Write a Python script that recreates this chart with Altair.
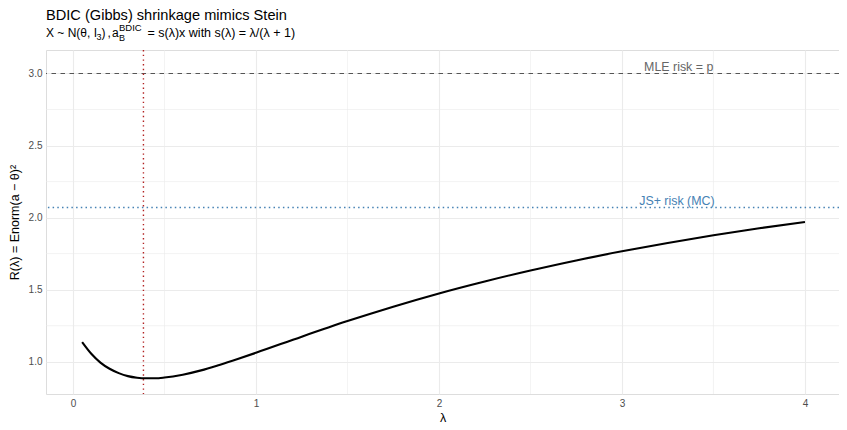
import altair as alt
import pandas as pd

# ---- data ----
lam = [0.05, 0.10, 0.15, 0.20, 0.25, 0.30, 0.35, 0.40, 0.45, 0.50, 0.60, 0.70,
       0.80, 0.90, 1.00, 1.25, 1.50, 1.75, 2.00, 2.25, 2.50, 2.75, 3.00, 3.25,
       3.50, 3.75, 4.00]
risk = [1.136, 1.055, 0.994, 0.951, 0.921, 0.900, 0.889, 0.885, 0.885, 0.890,
        0.910, 0.940, 0.978, 1.019, 1.062, 1.174, 1.282, 1.382, 1.474, 1.557,
        1.633, 1.703, 1.766, 1.824, 1.878, 1.926, 1.969]
mle_risk = [3.0]
js_risk = [2.07]
lam_star = [0.385]
ann_labels = ["MLE risk = p", "JS+ risk (MC)"]
ann_x = [3.31, 3.30]
ann_y = [mle_risk[0], js_risk[0]]
x_major = [0, 1, 2, 3, 4]
x_minor = [0.5, 1.5, 2.5, 3.5]
y_major = [1.0, 1.5, 2.0, 2.5, 3.0]
y_minor = [1.25, 1.75, 2.25, 2.75]

FONT = "Liberation Sans"
W, H = 793, 344
XDOM = [-0.1475, 4.186]
YDOM = [0.776, 3.163]

curve_df = pd.DataFrame({"lam": lam, "risk": risk})
xs = alt.Scale(domain=XDOM, nice=False, zero=False)
ys = alt.Scale(domain=YDOM, nice=False, zero=False)

xaxis = alt.Axis(values=x_major, format="d", grid=True, gridColor="#EBEBEB",
                 gridWidth=1.1, ticks=False, domain=False, labelFont=FONT,
                 labelFontSize=10, labelColor="#4D4D4D", labelPadding=4,
                 title="λ", titleFont=FONT, titleFontSize=12.5,
                 titleFontWeight="normal", titleColor="black", titlePadding=3)
yaxis = alt.Axis(values=y_major, format=".1f", grid=True, gridColor="#EBEBEB",
                 gridWidth=1.1, ticks=False, domain=False, labelFont=FONT,
                 labelFontSize=10, labelColor="#4D4D4D", labelPadding=4,
                 title="R(λ) = Enorm(a − θ)²", titleFont=FONT, titleFontSize=12.5,
                 titleFontWeight="normal", titleColor="black",
                 titleX=-32, titleY=H / 2, titleAngle=270,
                 titleAlign="center", titleBaseline="middle")

base_axes = alt.Chart(curve_df).mark_line(opacity=0).encode(
    x=alt.X("lam:Q", scale=xs, axis=xaxis),
    y=alt.Y("risk:Q", scale=ys, axis=yaxis),
)

xminor = alt.Chart(pd.DataFrame({"v": x_minor})).mark_rule(
    color="#EBEBEB", strokeWidth=0.6).encode(x=alt.X("v:Q", scale=xs))
yminor = alt.Chart(pd.DataFrame({"v": y_minor})).mark_rule(
    color="#EBEBEB", strokeWidth=0.6).encode(y=alt.Y("v:Q", scale=ys))

mle_rule = alt.Chart(pd.DataFrame({"v": mle_risk})).mark_rule(
    color="#555555", strokeWidth=1.1, strokeDash=[4.5, 4.5]).encode(
    y=alt.Y("v:Q", scale=ys))
js_rule = alt.Chart(pd.DataFrame({"v": js_risk})).mark_rule(
    color="#4682B4", strokeWidth=1.5, strokeDash=[1.5, 3.2]).encode(
    y=alt.Y("v:Q", scale=ys))
star_rule = alt.Chart(pd.DataFrame({"v": lam_star})).mark_rule(
    color="#B22222", strokeWidth=1.4, strokeDash=[1.4, 3.3]).encode(
    x=alt.X("v:Q", scale=xs))

curve = alt.Chart(curve_df).mark_line(
    color="black", strokeWidth=2.1, interpolate="monotone").encode(
    x=alt.X("lam:Q", scale=xs), y=alt.Y("risk:Q", scale=ys))

ann_df = pd.DataFrame({"label": ann_labels, "x": ann_x, "y": ann_y,
                       "c": ["#666666", "#4682B4"]})
ann = alt.Chart(ann_df).mark_text(
    font=FONT, fontSize=12.4, align="center", baseline="alphabetic", dy=-2.5
).encode(x=alt.X("x:Q", scale=xs), y=alt.Y("y:Q", scale=ys), text="label:N",
         color=alt.Color("c:N", scale=None))

one = pd.DataFrame({"k": [0]})


def txt(s, x, y, size, color="black"):
    return alt.Chart(one).mark_text(
        text=s, font=FONT, fontSize=size, align="left", baseline="alphabetic",
        color=color).encode(x=alt.value(x), y=alt.value(y))


title = txt("BDIC (Gibbs) shrinkage mimics Stein", 0, -30, 14.6)
sub = [
    txt("X ~ N(θ, I", 0, -13, 12),
    txt("3", 50.5, -10, 9),
    txt(")", 55.5, -13, 12),
    txt(",", 61.5, -13, 12),
    txt("a", 66, -13, 12),
    txt("B", 73, -9.5, 9),
    txt("BDIC", 73, -19.5, 9.5),
    txt("= s(λ)x with s(λ) = λ/(λ + 1)", 101.5, -13, 12.5),
]

chart = alt.layer(
    base_axes, xminor, yminor, mle_rule, js_rule, star_rule, curve, ann,
    title, *sub
).properties(
    width=W, height=H,
    autosize=alt.AutoSizeParams(type="none"),
    padding={"left": 38, "top": 42, "right": 0, "bottom": 34},
).configure_view(stroke=None).configure(background="white")

chart.save("out.html", embed_options={"renderer": "svg", "actions": False})
